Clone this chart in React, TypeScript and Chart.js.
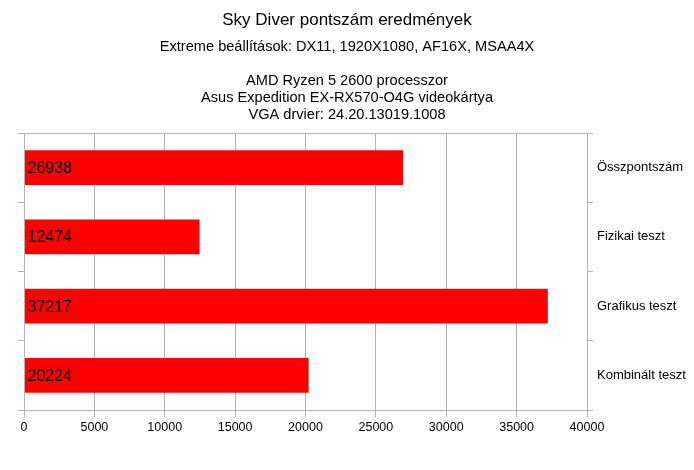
import React, { useEffect, useRef } from "react";
import { Chart, registerables } from "chart.js";

Chart.register(...registerables);

const categories = ["Összpontszám", "Fizikai teszt", "Grafikus teszt", "Kombinált teszt"];
const scores = [26938, 12474, 37217, 20224];
const titleText = "Sky Diver pontszám eredmények";
const subtitleLines = [
  "Extreme beállítások: DX11, 1920X1080, AF16X, MSAA4X",
  "",
  "AMD Ryzen 5 2600 processzor",
  "Asus Expedition EX-RX570-O4G videokártya",
  "VGA drvier: 24.20.13019.1008",
];
const xMin = 0;
const xMax = 40000;
const xStep = 5000;

const FONT = "'Liberation Sans', Arial, sans-serif";
const GRID = "#b3b3b3";

const frameAndLabels = {
  id: "frameAndLabels",
  afterDatasetsDraw(chart: any) {
    const { ctx, chartArea } = chart;
    ctx.save();
    ctx.strokeStyle = GRID;
    ctx.lineWidth = 1;
    ctx.strokeRect(
      Math.round(chartArea.left) + 0.5,
      Math.round(chartArea.top) + 0.5,
      Math.round(chartArea.right - chartArea.left),
      Math.round(chartArea.bottom - chartArea.top)
    );
    const meta = chart.getDatasetMeta(0);
    ctx.fillStyle = "#000";
    ctx.font = `16px ${FONT}`;
    ctx.textBaseline = "middle";
    ctx.textAlign = "left";
    meta.data.forEach((bar: any, i: number) => {
      ctx.fillText(String(scores[i]), bar.base + 3, bar.y + 1);
    });
    ctx.restore();
  },
};

export default function App() {
  const ref = useRef<HTMLCanvasElement>(null);
  useEffect(() => {
    if (!ref.current) return;
    const chart = new Chart(ref.current, {
      type: "bar",
      data: {
        labels: categories,
        datasets: [
          {
            data: scores,
            backgroundColor: "#ff0000",
            borderWidth: 0,
            barPercentage: 0.5,
            categoryPercentage: 1,
          },
        ],
      },
      plugins: [frameAndLabels],
      options: {
        indexAxis: "y",
        responsive: false,
        animation: false,
        layout: { padding: 0 },
        plugins: {
          legend: { display: false },
          tooltip: { enabled: false },
          title: {
            display: true,
            text: titleText,
            color: "#000",
            font: { family: FONT, size: 17, weight: "normal", lineHeight: 1.2 },
            padding: { top: 9.8, bottom: 4 },
          },
          subtitle: {
            display: true,
            text: subtitleLines,
            color: "#000",
            font: { family: FONT, size: 14.6, weight: "normal", lineHeight: 17 / 14.6 },
            padding: { top: 4.5, bottom: 9.3 },
          },
        },
        scales: {
          x: {
            type: "linear",
            min: xMin,
            max: xMax,
            ticks: {
              stepSize: xStep,
              color: "#000",
              font: { family: FONT, size: 12.5 },
              padding: 3,
              callback: (v: any) => String(v),
            },
            grid: { color: GRID, tickLength: 7, tickColor: GRID },
            border: { color: GRID },
            afterFit(scale: any) {
              scale.height = 60;
            },
          },
          y: {
            type: "category",
            position: "left",
            offset: true,
            ticks: { display: false },
            grid: {
              offset: true,
              drawOnChartArea: false,
              tickLength: 6,
              color: GRID,
            },
            border: { color: GRID },
            afterFit(scale: any) {
              scale.width = 24;
            },
          },
          y2: {
            type: "category",
            position: "right",
            offset: true,
            labels: categories,
            ticks: {
              color: "#000",
              font: { family: FONT, size: 13 },
              padding: 4,
            },
            grid: {
              offset: true,
              drawOnChartArea: false,
              tickLength: 6,
              color: GRID,
            },
            border: { color: GRID },
            afterFit(scale: any) {
              scale.width = 107;
            },
          },
        },
      } as any,
    });
    return () => chart.destroy();
  }, []);
  return (
    <div style={{ position: "fixed", left: 0, top: 0, width: 694, height: 470, background: "#fff" }}>
      <canvas ref={ref} width={694} height={470} />
    </div>
  );
}
